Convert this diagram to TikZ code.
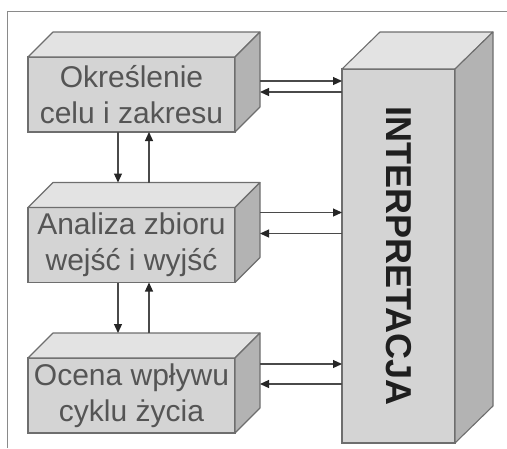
\documentclass[tikz,border=0pt]{standalone}
\usepackage{fontspec}
\setmainfont{Liberation Sans}
\usetikzlibrary{arrows.meta}
\definecolor{frontc}{HTML}{D4D4D4}
\definecolor{topc}{HTML}{E3E3E3}
\definecolor{sidec}{HTML}{B3B3B3}
\definecolor{edgec}{HTML}{6E6E6E}
\definecolor{txtc}{HTML}{555555}
\definecolor{arrc}{HTML}{4A4A4A}
\definecolor{framec}{HTML}{8A8A8A}
\tikzset{
  front/.style={fill=frontc, draw=edgec, line width=1.1pt, outer sep=0pt, inner sep=0pt,
    minimum width=207pt, minimum height=75pt, align=center, text=txtc,
    font=\fontsize{30}{36}\selectfont},
  bigfront/.style={fill=frontc, draw=edgec, line width=1.1pt, outer sep=0pt, inner sep=0pt,
    minimum width=113pt, minimum height=374pt},
  topface/.style={fill=topc, draw=edgec, line width=1.1pt, line join=round},
  sideface/.style={fill=sidec, draw=edgec, line width=1.1pt, line join=round},
  arr/.style={draw=arrc, line width=1.2pt, -{Triangle[length=9pt,width=8pt,color=black!85]}},
  framestyle/.style={draw=framec, line width=1pt}
}
\begin{document}
\begin{tikzpicture}[x=1pt,y=-1pt]
\useasboundingbox (0,0) rectangle (507,448);
\draw[framestyle] (7,448) -- (7,11) -- (507,11);

% small boxes
\foreach \nm/\cy/\txt in {b1/94.5/{Określenie\\celu i zakresu}, b2/245/{Analiza zbioru\\wejść i wyjść}, b3/395.5/{Ocena wpływu\\cyklu życia}}{
  \node[front] (\nm) at (131.5,\cy) {\txt};
  \draw[topface] (\nm.north west) -- ++(25pt,25pt) -- ++(207pt,0pt) -- (\nm.north east) -- cycle;
  \draw[sideface] (\nm.north east) -- ++(25pt,25pt) -- ++(0pt,-75pt) -- (\nm.south east) -- cycle;
}

% big box
\node[bigfront] (I) at (398.5,256) {};
\draw[topface] (I.north west) -- ++(38pt,37pt) -- ++(113pt,0pt) -- (I.north east) -- cycle;
\draw[sideface] (I.north east) -- ++(38pt,37pt) -- ++(0pt,-374pt) -- (I.south east) -- cycle;
\node[rotate=-90, font=\bfseries\fontsize{36}{40}\selectfont, text=black!88] (It) at (I.center) {INTERPRETACJA};

% horizontal arrows
\coordinate (r1) at ([shift={(25pt,-24pt)}]b1.north east);
\coordinate (l1) at ([shift={(25pt,-35pt)}]b1.north east);
\coordinate (r2) at ([shift={(25pt,-5pt)}]b2.north east);
\coordinate (l2) at ([shift={(25pt,-26pt)}]b2.north east);
\coordinate (r3) at ([shift={(25pt,-6pt)}]b3.north east);
\coordinate (l3) at ([shift={(25pt,-26pt)}]b3.north east);
\draw[arr] (r1) -- (r1 -| I.west);
\draw[arr] (l1 -| I.west) -- (l1);
\draw[arr] (r2) -- (r2 -| I.west);
\draw[arr] (l2 -| I.west) -- (l2);
\draw[arr] (r3) -- (r3 -| I.west);
\draw[arr] (l3 -| I.west) -- (l3);

% vertical arrows
\coordinate (d1) at ([xshift=-13.5pt]b1.south);
\coordinate (u1) at ([xshift=17.5pt]b1.south);
\coordinate (t2) at ([yshift=25pt]b2.north);
\draw[arr] (d1) -- (d1 |- t2);
\draw[arr] (u1 |- t2) -- (u1);
\coordinate (d2) at ([xshift=-13.5pt]b2.south);
\coordinate (u2) at ([xshift=17.5pt]b2.south);
\coordinate (t3) at ([yshift=25pt]b3.north);
\draw[arr] (d2) -- (d2 |- t3);
\draw[arr] (u2 |- t3) -- (u2);
\end{tikzpicture}
\end{document}
